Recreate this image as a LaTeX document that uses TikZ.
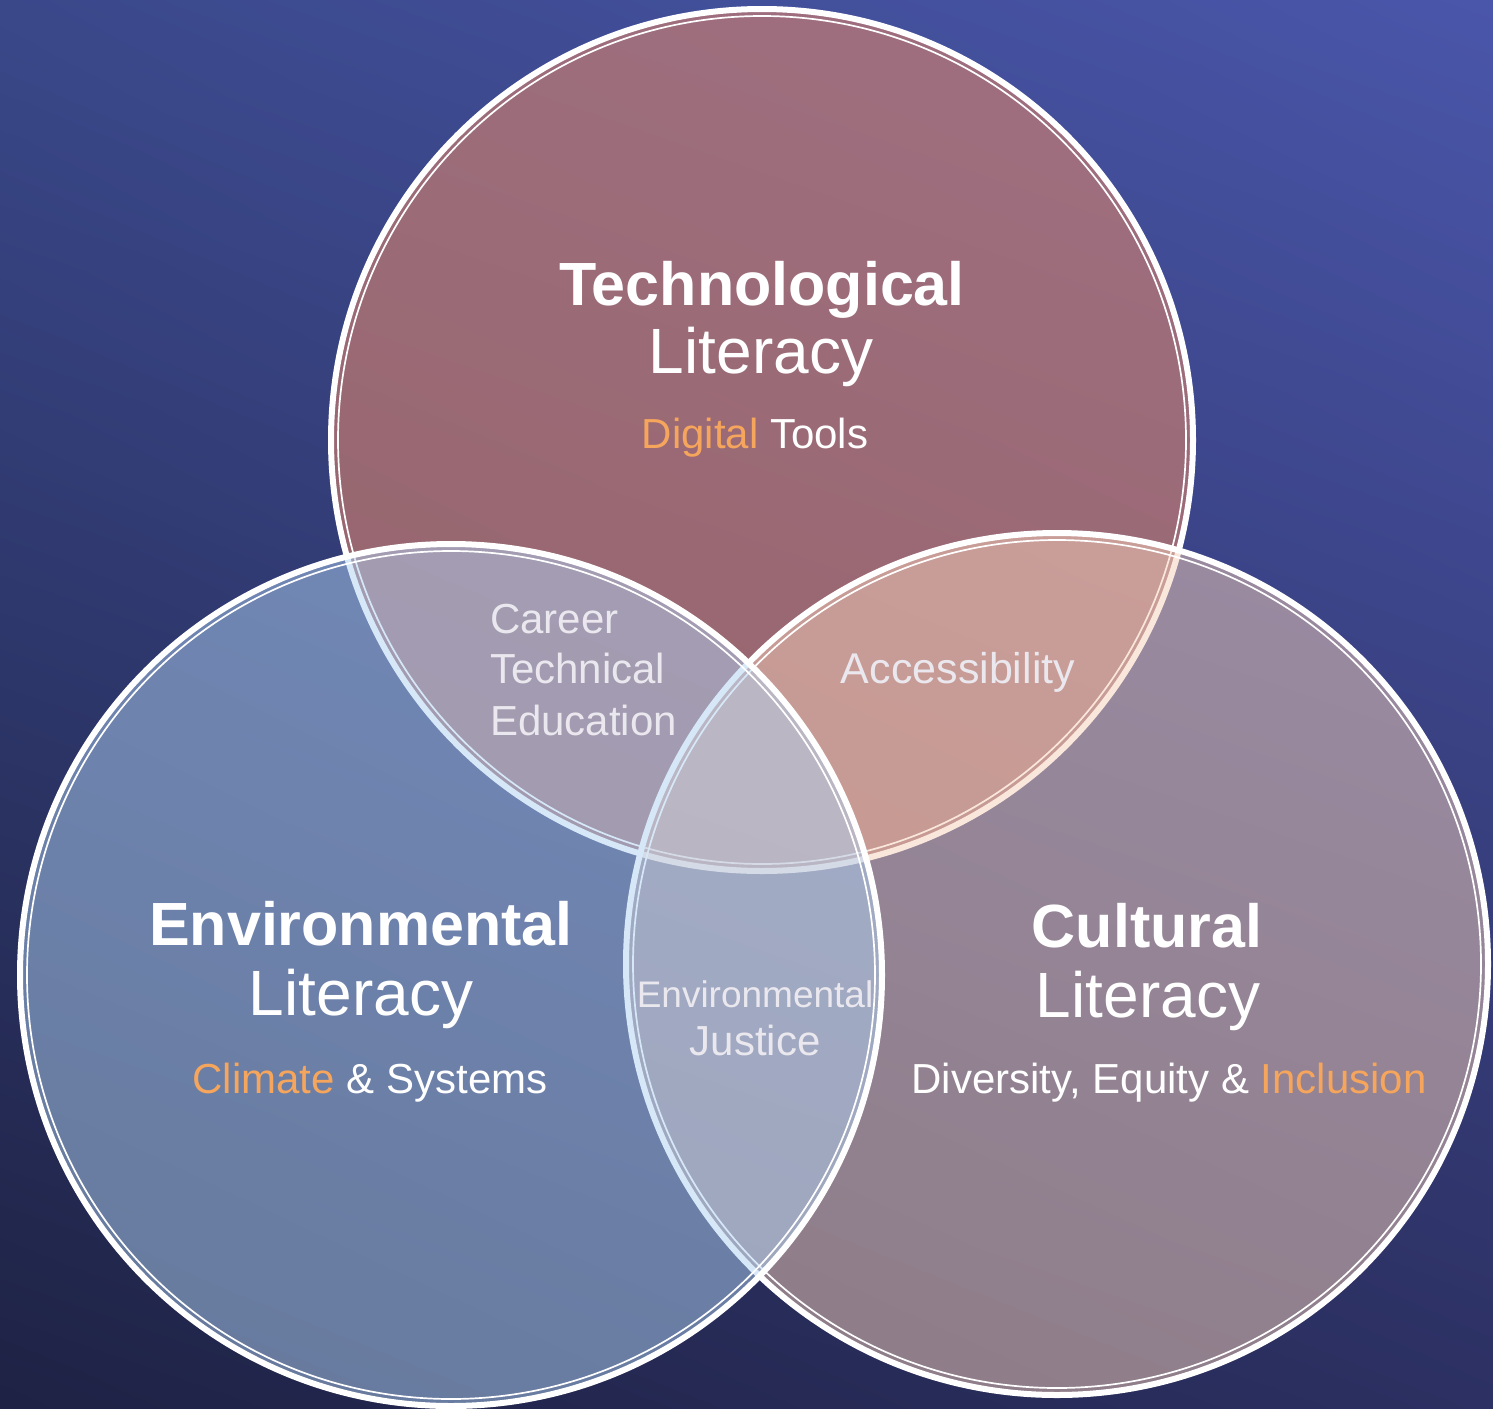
\documentclass[tikz,border=0pt]{standalone}
\usepackage{fontspec}
\setmainfont{Liberation Sans}
\usetikzlibrary{shadings}

\definecolor{techfill}{RGB}{220,132,109}
\definecolor{cultfill}{RGB}{247,208,186}
\definecolor{envfill}{RGB}{175,209,243}
\definecolor{accent}{RGB}{246,165,92}
\definecolor{lenstext}{RGB}{234,232,238}
\definecolor{bgul}{RGB}{58,72,138}
\definecolor{bgur}{RGB}{74,86,170}
\definecolor{bgll}{RGB}{30,34,68}
\definecolor{bglr}{RGB}{44,48,98}

\tikzset{
  bubble/.style={draw=white, line width=6pt},
  bubbleline/.style={draw=white, line width=1.7pt},
  title/.style={inner sep=0pt, anchor=base, text=white, font=\fontsize{61}{72}\selectfont\bfseries},
  literacy/.style={inner sep=0pt, anchor=base, text=white, font=\fontsize{64}{76}\selectfont},
  subtitle/.style={inner sep=0pt, anchor=base, text=white, font=\fontsize{42}{50}\selectfont},
  lens/.style={inner sep=0pt, text=lenstext, font=\fontsize{42}{50}\selectfont},
}

\begin{document}
\begin{tikzpicture}[x=1pt,y=1pt,yscale=-1,xscale=1]
\useasboundingbox (0,0) rectangle (1493,1408);

%Shape: Rectangle [id:background]
\shade [upper left=bgul, upper right=bgur, lower left=bgll, lower right=bglr] (0,0) rectangle (1493,1408);

%Shape: Circle [id:technological]
\draw [bubble, fill=techfill, fill opacity=0.6] (762,440) circle (431);
\draw [bubbleline] (762,440) circle (424);
%Shape: Circle [id:cultural]
\draw [bubble, fill=cultfill, fill opacity=0.5] (1057,964) circle (431);
\draw [bubbleline] (1057,964) circle (424);
%Shape: Circle [id:environmental]
\draw [bubble, fill=envfill, fill opacity=0.5] (451,975) circle (431);
\draw [bubbleline] (451,975) circle (424);

% Text Node
\node [title] (techtitle) at (762,305) {Technological};
\node [literacy] (techlit) at (761,373) {Literacy};
\node [subtitle] (techsub) at (755,448) {\textcolor{accent}{Digital} Tools};
% Text Node
\node [title] (envtitle) at (361,945) {Environmental};
\node [literacy] (envlit) at (361,1015) {Literacy};
\node [subtitle] (envsub) at (370,1093) {\textcolor{accent}{Climate} \& Systems};
% Text Node
\node [title] (culttitle) at (1147,947) {Cultural};
\node [literacy] (cultlit) at (1148,1017) {Literacy};
\node [subtitle] (cultsub) at (1169,1093) {Diversity, Equity \& \textcolor{accent}{Inclusion}};

% Text Node
\node [lens, anchor=base west] (career) at (490,633) {Career};
\node [lens, anchor=base west] (technical) at (490,683) {Technical};
\node [lens, anchor=base west] (education) at (490,735) {Education};
% Text Node
\node [lens, anchor=base, font=\fontsize{43}{50}\selectfont] (access) at (958,683) {Accessibility};
% Text Node
\node [lens, anchor=base, font=\fontsize{37}{44}\selectfont] (justenv) at (755,1007) {Environmental};
\node [lens, anchor=base] (justice) at (755,1055) {Justice};

\end{tikzpicture}
\end{document}
